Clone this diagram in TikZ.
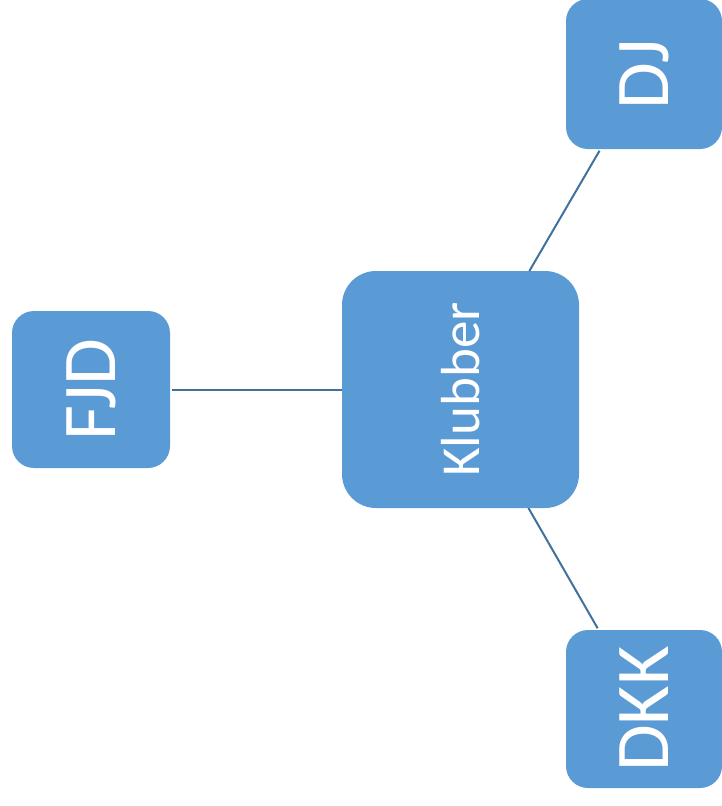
\documentclass[tikz,border=0pt]{standalone}
\usepackage{fontspec}
\setmainfont{Carlito}
\definecolor{boxblue}{HTML}{5B9BD5}
\definecolor{lineblue}{HTML}{41719C}
\begin{document}
\begin{tikzpicture}[x=1pt,y=-1pt]

      \useasboundingbox (0,0) rectangle (722,806);

      \begin{scope}[every node/.style={rectangle,fill=boxblue,text=white,
          rotate=90,rounded corners=22pt,inner sep=0pt,outer sep=0pt,
          font=\fontsize{76}{76}\selectfont}]
        \node[minimum width=237pt,minimum height=237pt,rounded corners=34pt,
          font=\fontsize{55}{55}\selectfont] (klubber) at (460.5,389.5) {Klubber};
        \node[minimum width=157pt,minimum height=158pt] (fjd) at (91,389.5) {FJD};
        \node[minimum width=150pt,minimum height=156pt] (dj)  at (644,74)   {DJ};
        \node[minimum width=158pt,minimum height=156pt] (dkk) at (644,709)  {DKK};
      \end{scope}

      \begin{scope}[every path/.style={draw=lineblue,line width=2pt,shorten >=2pt}]
        \path (klubber) edge (fjd);
        \path (klubber) edge (dj);
        \path (klubber) edge (dkk);
      \end{scope}

    \end{tikzpicture}
\end{document}
